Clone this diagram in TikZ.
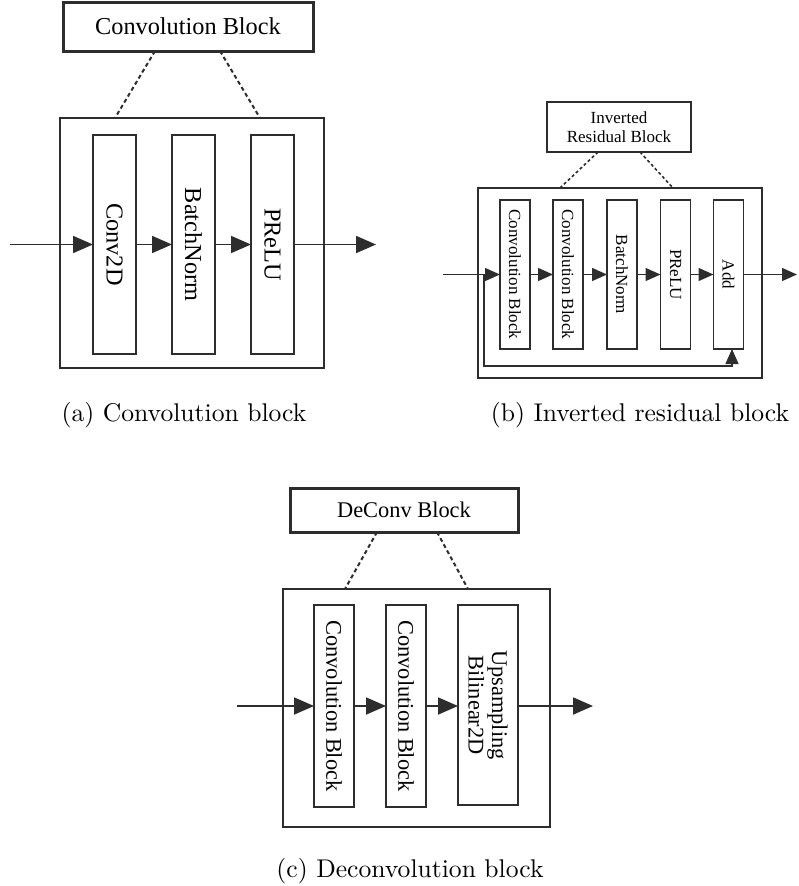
\documentclass[tikz,border=0pt]{standalone}
\usepackage{fontspec}
\usetikzlibrary{arrows.meta,positioning,calc}
\newfontfamily\tnr{Liberation Serif}
\definecolor{lineclr}{RGB}{45,45,45}

\begin{document}
\begin{tikzpicture}[x=1pt,y=-1pt,
    box/.style={draw=lineclr, line width=1.8pt, inner sep=0pt, outer sep=0pt},
    head/.style={box, line width=3pt},
    link/.style={draw=lineclr, line width=2pt, dash pattern=on 4pt off 3pt},
    flow/.style={draw=lineclr, line width=1.8pt, -{Triangle[length=20pt,width=17pt]}},
    subcap/.style={anchor=base, inner sep=0pt}]
  \useasboundingbox (0,0) rectangle (798,886);

  % (a) Convolution block
  \begin{scope}[font={\tnr\fontsize{24.3}{28}\selectfont}]
    \node[head, minimum width=250pt, minimum height=49pt] (atitle) at (188,26.5) {Convolution Block};
    \node[box, minimum width=264pt, minimum height=250pt] (aouter) at (192,243) {};
    \node[box, minimum width=43pt, minimum height=219pt] (conv) at (114.5,244.5) {\rotatebox{-90}{Conv2D}};
    \node[box, minimum width=43pt, minimum height=219pt] (bnorm) at (193.5,244.5) {\rotatebox{-90}{BatchNorm}};
    \node[box, minimum width=43pt, minimum height=219pt] (prelu) at (272.5,244.5) {\rotatebox{-90}{PReLU}};
  \end{scope}
  \coordinate (ain) at (10,244.5);
  \coordinate (aout) at (376,244.5);
  \draw[link] ($(atitle.south west)+(92,0)$) -- ($(aouter.north west)+(55,0)$);
  \draw[link] ($(atitle.south west)+(157,0)$) -- ($(aouter.north west)+(200,0)$);
  \draw[flow] (ain) -- (conv.west);
  \draw[flow] (conv) -- (bnorm);
  \draw[flow] (bnorm) -- (prelu);
  \draw[flow] (prelu) -- (aout);
  \node[subcap] (acap) at (184,421) {\scalebox{2.56}{(a)\ Convolution block}};

  % (b) Inverted residual block
  \begin{scope}[font={\tnr\fontsize{17}{19}\selectfont},
      box/.append style={line width=1.3pt}, head/.append style={line width=2.4pt},
      flow/.append style={line width=1.3pt, -{Triangle[length=15pt,width=13pt]}},
      link/.append style={line width=1.6pt, dash pattern=on 3pt off 2.5pt}]
    \node[head, minimum width=144pt, minimum height=50pt, align=center] (btitle) at (619,127) {Inverted\\Residual Block};
    \node[box, minimum width=284pt, minimum height=190pt] (bouter) at (620,283) {};
    \node[box, minimum width=30pt, minimum height=149pt] (bconv1) at (515,274.5) {\rotatebox{-90}{Convolution Block}};
    \node[box, minimum width=30pt, minimum height=149pt] (bconv2) at (568,274.5) {\rotatebox{-90}{Convolution Block}};
    \node[box, minimum width=30pt, minimum height=149pt] (bnorm2) at (622,274.5) {\rotatebox{-90}{BatchNorm}};
    \node[box, minimum width=30pt, minimum height=149pt] (prelu2) at (675.5,274.5) {\rotatebox{-90}{PReLU}};
    \node[box, minimum width=30pt, minimum height=149pt] (badd) at (728.5,274.5) {\rotatebox{-90}{Add}};
    \coordinate (bin) at (443,274.5);
    \coordinate (bsplit) at (484,274.5);
    \coordinate (bret) at (732,366);
    \coordinate (bout) at (797,274.5);
    \draw[link] ($(btitle.south west)+(51,0)$) -- ($(bouter.north west)+(82,0)$);
    \draw[link] ($(btitle.south west)+(93,0)$) -- ($(bouter.north west)+(195,0)$);
    \draw[flow] (bin) -- (bconv1.west);
    \draw[flow] (bconv1) -- (bconv2);
    \draw[flow] (bconv2) -- (bnorm2);
    \draw[flow] (bnorm2) -- (prelu2);
    \draw[flow] (prelu2) -- (badd);
    \draw[flow] (badd) -- (bout);
    \draw[flow] (bsplit) |- (bret) -- (bret |- badd.south);
  \end{scope}
  \node[subcap] (bcap) at (640,421) {\scalebox{2.56}{(b)\ Inverted residual block}};

  % (c) Deconvolution block
  \begin{scope}[font={\tnr\fontsize{22.4}{25}\selectfont},
      flow/.append style={-{Triangle[length=18pt,width=16pt]}}]
    \node[head, minimum width=228pt, minimum height=44pt] (ctitle) at (404,510) {DeConv Block};
    \node[box, minimum width=267pt, minimum height=238pt] (couter) at (416.5,708) {};
    \node[box, minimum width=40pt, minimum height=202pt] (cconv1) at (334,706) {\rotatebox{-90}{Convolution Block}};
    \node[box, minimum width=40pt, minimum height=202pt] (cconv2) at (406,706) {\rotatebox{-90}{Convolution Block}};
    \node[box, minimum width=60pt, minimum height=200pt] (cup) at (488,705) {\rotatebox{-90}{\shortstack{Upsampling\\Bilinear2D}}};
  \end{scope}
  \coordinate (cin) at (237,706);
  \coordinate (cout) at (593,706);
  \draw[link] ($(ctitle.south west)+(87,0)$) -- ($(couter.north west)+(62,0)$);
  \draw[link] ($(ctitle.south west)+(147,0)$) -- ($(couter.north west)+(185,0)$);
  \draw[flow] (cin) -- (cconv1.west);
  \draw[flow] (cconv1) -- (cconv2);
  \draw[flow] (cconv2) -- (cup.west |- cconv2);
  \draw[flow] (cup.east |- cconv2) -- (cout);
  \node[subcap] (ccap) at (410,877) {\scalebox{2.56}{(c)\ Deconvolution block}};
\end{tikzpicture}
\end{document}
